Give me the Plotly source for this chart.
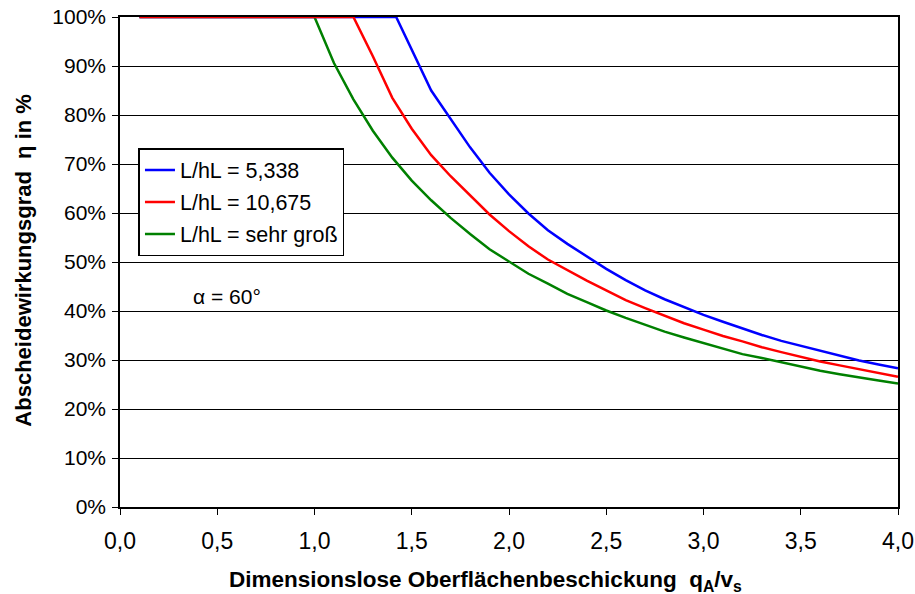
import plotly.graph_objects as go

# Dimensionless surface loading q_A/v_s
x_blue = [0.1, 0.5, 1.0, 1.42, 1.6, 1.7, 1.8, 1.9, 2.0, 2.1, 2.2, 2.3, 2.4, 2.5, 2.6, 2.7, 2.8,
          2.9, 3.0, 3.1, 3.2, 3.3, 3.4, 3.5, 3.6, 3.7, 3.8, 3.9, 4.0]
eta_blue = [100, 100, 100, 100, 85.0, 79.2, 73.4, 68.2, 63.8, 59.9, 56.5, 53.7, 51.1, 48.6, 46.3,
            44.2, 42.4, 40.8, 39.2, 37.8, 36.4, 35.1, 33.9, 32.9, 31.8, 30.8, 29.9, 29.1, 28.3]

x_red = [0.1, 0.5, 1.0, 1.2, 1.3, 1.4, 1.5, 1.6, 1.7, 1.8, 1.9, 2.0, 2.1, 2.2, 2.3, 2.4, 2.5,
         2.6, 2.7, 2.8, 2.9, 3.0, 3.1, 3.2, 3.3, 3.4, 3.5, 3.6, 3.7, 3.8, 3.9, 4.0]
eta_red = [100, 100, 100, 100, 92.0, 83.5, 77.2, 71.8, 67.5, 63.5, 59.7, 56.3, 53.2, 50.5, 48.3,
           46.2, 44.2, 42.2, 40.6, 39.0, 37.5, 36.2, 34.9, 33.8, 32.6, 31.6, 30.6, 29.7, 28.9,
           28.1, 27.3, 26.6]

x_green = [0.1, 0.5, 1.0, 1.1, 1.2, 1.3, 1.4, 1.5, 1.6, 1.7, 1.8, 1.9, 2.0, 2.1, 2.2, 2.3, 2.4,
           2.5, 2.6, 2.7, 2.8, 2.9, 3.0, 3.1, 3.2, 3.3, 3.4, 3.5, 3.6, 3.7, 3.8, 3.9, 4.0]
eta_green = [100, 100, 100, 90.6, 83.2, 76.8, 71.3, 66.6, 62.6, 59.0, 55.7, 52.6, 50.1, 47.6,
             45.6, 43.5, 41.8, 40.1, 38.6, 37.2, 35.8, 34.6, 33.5, 32.4, 31.2, 30.4, 29.5,
             28.6, 27.8, 27.1, 26.4, 25.8, 25.2]

names = ["L/hL = 5,338", "L/hL = 10,675", "L/hL = sehr groß"]
colors = ["#0000FF", "#FF0000", "#008000"]

x_ticks = [0.0, 0.5, 1.0, 1.5, 2.0, 2.5, 3.0, 3.5, 4.0]
x_ticklabels = ["0,0", "0,5", "1,0", "1,5", "2,0", "2,5", "3,0", "3,5", "4,0"]
y_ticks = list(range(0, 101, 10))
y_ticklabels = [f"{v}%" for v in y_ticks]

FONT = "Liberation Sans, Arial, sans-serif"

# page size and plot-area margins in pixels
W, H = 915, 594
L, R, T, B = 119.5, 16.5, 17, 87
pw, ph = W - L - R, H - T - B


def px_to_paper(px, py):
    """Convert a page pixel position to paper coordinates."""
    return (px - L) / pw, (H - B - py) / ph


fig = go.Figure()
# green drawn first so the red curve lies on top along the 100 % plateau
fig.add_trace(go.Scatter(x=x_green, y=eta_green, mode="lines", name=names[2],
                         legendgroup="c", line=dict(color=colors[2], width=2.5), legendrank=3))
fig.add_trace(go.Scatter(x=x_blue, y=eta_blue, mode="lines", name=names[0],
                         legendgroup="a", line=dict(color=colors[0], width=2.5), legendrank=1))
fig.add_trace(go.Scatter(x=x_red, y=eta_red, mode="lines", name=names[1],
                         legendgroup="b", line=dict(color=colors[1], width=2.5), legendrank=2))

fig.add_annotation(x=0.55, y=43, xref="x", yref="y", text="α = 60°", showarrow=False,
                   font=dict(family=FONT, size=21, color="black"))

# axis titles
tx, ty = px_to_paper(485, 581)
fig.add_annotation(x=tx, y=ty, xref="paper", yref="paper", showarrow=False,
                   xanchor="center", yanchor="middle",
                   text="<b>Dimensionslose Oberflächenbeschickung  q<sub>A</sub>/v<sub>s</sub></b>",
                   font=dict(family=FONT, size=22.5, color="black"))
tx, ty = px_to_paper(22, 260)
fig.add_annotation(x=tx, y=ty, xref="paper", yref="paper", showarrow=False, textangle=-90,
                   xanchor="center", yanchor="middle",
                   text="<b>Abscheidewirkungsgrad  η in %</b>",
                   font=dict(family=FONT, size=22, color="black"))

lx, ly = px_to_paper(138, 148)
fig.update_layout(
    width=W, height=H,
    margin=dict(l=L, r=R, t=T, b=B),
    paper_bgcolor="white", plot_bgcolor="white",
    font=dict(family=FONT, size=21, color="black"),
    showlegend=True,
    legend=dict(x=lx, y=ly, xanchor="left", yanchor="top",
                bgcolor="white", bordercolor="black", borderwidth=1.5,
                font=dict(family=FONT, size=21.5, color="black"),
                traceorder="grouped", tracegroupgap=1),
    xaxis=dict(range=[0, 4], tickvals=x_ticks, ticktext=x_ticklabels, automargin=False,
               showgrid=False, zeroline=False, showline=True, linecolor="black",
               linewidth=1.5, mirror=True, ticks="outside", ticklen=6, tickcolor="black",
               ticklabelstandoff=7, tickfont=dict(size=23)),
    yaxis=dict(range=[0, 100], tickvals=y_ticks, ticktext=y_ticklabels, automargin=False,
               showgrid=True, gridcolor="black", gridwidth=1,
               zeroline=False, showline=True, linecolor="black",
               linewidth=1.5, mirror=True, ticks="outside", ticklen=6, tickcolor="black",
               ticklabelstandoff=2, tickfont=dict(size=21)),
)

fig.write_html("out.html")
